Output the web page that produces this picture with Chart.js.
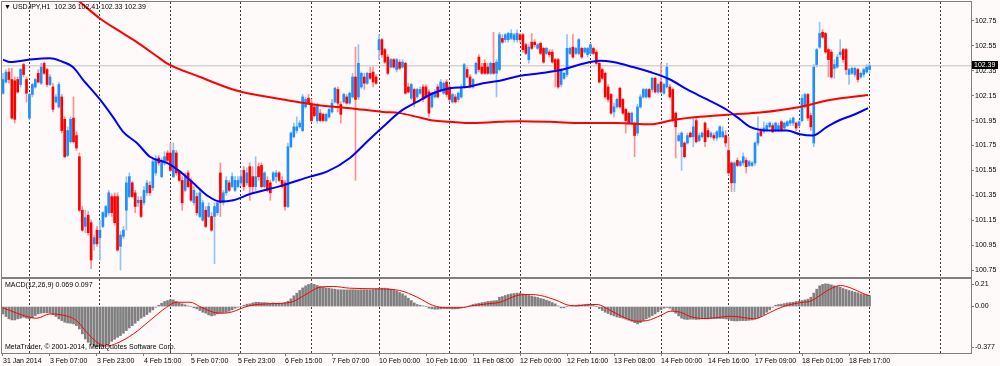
<!DOCTYPE html>
<html>
<head>
<meta charset="utf-8">
<script src="https://cdn.jsdelivr.net/npm/chart.js@4.4.1/dist/chart.umd.min.js"></script>
<style>
  html, body { margin: 0; padding: 0; background: #fffafa; }
  #wrap { position: relative; width: 1000px; height: 366px; overflow: hidden; }
  canvas { position: absolute; left: 0; }
  #main { top: 0; }
  #macd { top: 278px; }
  .lbl { position: absolute; font: 7px "Liberation Sans", Arial, sans-serif; color: #000; white-space: nowrap; line-height: 8px; }
</style>
</head>
<body>
<div id="wrap">
  <canvas id="main" width="1000" height="278"></canvas>
  <canvas id="macd" width="1000" height="88"></canvas>
  <div class="lbl" style="left:4px;top:3px">▼ USDJPY,H1&nbsp; 102.36 102.41 102.33 102.39</div>
  <div class="lbl" style="left:5px;top:281px">MACD(12,26,9) 0.069 0.097</div>
  <div class="lbl" style="left:5px;top:343px">MetaTrader, © 2001-2014, MetaQuotes Software Corp.</div>
</div>
<script>
// bar index 0 = 31 Jan 2014 14:00, one bar per hour, weekends skipped
const xLabelBars = [0, 16, 32, 48, 64, 80, 96, 112, 128, 144, 160, 176, 192, 208, 224, 240, 256, 272, 288];
const xLabels = ["31 Jan 2014", "3 Feb 07:00", "3 Feb 23:00", "4 Feb 15:00", "5 Feb 07:00", "5 Feb 23:00",
  "6 Feb 15:00", "7 Feb 07:00", "10 Feb 00:00", "10 Feb 16:00", "11 Feb 08:00", "12 Feb 00:00",
  "12 Feb 16:00", "13 Feb 08:00", "14 Feb 00:00", "14 Feb 16:00", "17 Feb 09:00", "18 Feb 01:00", "18 Feb 17:00"];
const dayStartBars = [9, 33, 57, 81, 105, 128, 152, 176, 200, 224, 247, 271, 295, 319];
const priceTicks = [100.75, 100.95, 101.15, 101.35, 101.55, 101.75, 101.95, 102.15, 102.35, 102.55, 102.75];
const macdTicks = [0.21, 0, -0.377];
const macdTickLabels = ["0.21", "0.00", "-0.377"];
const lastPrice = 102.39;

const opens = [
  102.17,102.26,102.34,102.28,102.27,102.28,102.24,102.40,102.28,101.97,
  102.16,102.22,102.33,102.25,102.41,102.36,102.24,102.22,102.10,102.06,
  102.14,101.96,101.67,101.78,101.97,101.83,101.66,101.23,101.10,101.19,
  101.13,100.96,101.07,101.01,101.10,101.18,101.21,101.34,101.34,101.34,
  100.94,101.02,101.23,101.34,101.45,101.37,101.29,101.31,101.29,101.37,
  101.43,101.41,101.53,101.65,101.50,101.61,101.69,101.69,101.50,101.69,
  101.54,101.47,101.39,101.53,101.47,101.29,101.34,101.18,101.15,101.23,
  101.18,101.18,101.18,101.21,101.53,101.29,101.37,101.45,101.42,101.39,
  101.42,101.45,101.55,101.45,101.58,101.50,101.42,101.58,101.59,101.42,
  101.47,101.45,101.47,101.50,101.53,101.47,101.45,101.26,101.74,101.82,
  101.87,101.90,101.87,102.06,102.13,102.09,102.06,101.95,102.01,102.00,
  101.95,101.98,102.02,102.10,102.20,102.08,102.10,102.14,102.09,102.14,
  102.30,102.14,102.22,102.30,102.25,102.33,102.34,102.30,102.52,102.60,
  102.52,102.46,102.38,102.44,102.36,102.42,102.38,102.41,102.22,102.13,
  102.20,102.14,102.17,102.22,102.22,102.18,102.06,102.14,102.22,102.20,
  102.17,102.26,102.22,102.10,102.14,102.12,102.14,102.22,102.36,102.30,
  102.22,102.33,102.46,102.38,102.41,102.38,102.33,102.41,102.33,102.36,
  102.61,102.60,102.60,102.61,102.60,102.60,102.64,102.64,102.56,102.44,
  102.58,102.58,102.53,102.57,102.53,102.49,102.50,102.50,102.44,102.44,
  102.24,102.29,102.32,102.49,102.54,102.49,102.49,102.53,102.50,102.48,
  102.49,102.53,102.50,102.41,102.36,102.33,102.22,102.16,102.02,102.06,
  102.21,102.12,102.04,102.01,101.93,101.93,101.85,102.06,102.14,102.14,
  102.20,102.20,102.29,102.18,102.26,102.17,102.22,102.22,102.20,102.01,
  101.79,101.74,101.77,101.77,101.85,101.82,101.95,101.79,101.82,101.93,
  101.87,101.82,101.83,101.81,101.82,101.82,101.83,101.71,101.61,101.45,
  101.63,101.59,101.61,101.63,101.59,101.59,101.61,101.77,101.87,101.86,
  101.87,101.90,101.91,101.87,101.87,101.94,101.89,101.91,101.93,101.93,
  101.93,101.91,101.95,102.06,102.16,101.99,101.77,102.40,102.54,102.66,
  102.65,102.52,102.50,102.37,102.38,102.48,102.52,102.52,102.32,102.33,
  102.32,102.36,102.30,102.32,102.34,102.36
];
const highs = [
  102.33,102.36,102.37,102.37,102.30,102.30,102.37,102.41,102.30,102.17,
  102.25,102.29,102.36,102.41,102.42,102.37,102.32,102.25,102.16,102.26,
  102.16,101.98,101.90,101.98,102.14,101.86,101.69,101.26,101.23,101.22,
  101.15,101.03,101.10,101.15,101.22,101.27,101.39,101.36,101.37,101.37,
  101.06,101.10,101.50,101.53,101.46,101.39,101.34,101.34,101.42,101.47,
  101.46,101.65,101.67,101.67,101.65,101.70,101.71,101.77,101.77,101.71,
  101.55,101.50,101.53,101.55,101.49,101.42,101.37,101.39,101.31,101.26,
  101.29,101.21,101.29,101.31,101.61,101.39,101.50,101.47,101.53,101.50,
  101.50,101.55,101.58,101.57,101.61,101.58,101.66,101.61,101.61,101.54,
  101.50,101.47,101.54,101.55,101.54,101.50,101.47,101.77,101.86,101.93,
  101.98,101.95,102.16,102.14,102.16,102.12,102.09,102.09,102.04,102.01,
  102.01,102.05,102.12,102.22,102.22,102.10,102.17,102.16,102.18,102.33,
  102.54,102.56,102.34,102.33,102.34,102.38,102.38,102.32,102.64,102.61,
  102.53,102.48,102.45,102.45,102.45,102.44,102.44,102.42,102.25,102.25,
  102.21,102.21,102.22,102.24,102.24,102.20,102.18,102.20,102.24,102.28,
  102.26,102.28,102.24,102.17,102.16,102.18,102.24,102.41,102.38,102.32,
  102.29,102.42,102.48,102.41,102.44,102.41,102.42,102.66,102.44,102.66,
  102.64,102.65,102.66,102.68,102.65,102.68,102.65,102.65,102.57,102.56,
  102.65,102.60,102.57,102.58,102.54,102.54,102.52,102.52,102.45,102.45,
  102.37,102.34,102.64,102.54,102.64,102.54,102.61,102.54,102.54,102.54,
  102.57,102.54,102.52,102.42,102.37,102.34,102.24,102.17,102.09,102.13,
  102.22,102.13,102.05,102.02,102.02,101.94,102.08,102.16,102.21,102.21,
  102.21,102.30,102.30,102.25,102.41,102.25,102.41,102.24,102.21,102.02,
  101.85,101.86,101.78,101.85,101.86,101.98,101.97,101.85,101.86,101.94,
  101.89,101.86,101.85,101.87,101.91,101.90,101.87,101.82,101.62,101.62,
  101.65,101.63,101.69,101.65,101.63,101.62,101.78,101.98,101.89,101.94,
  101.93,101.94,101.93,101.94,101.93,101.95,101.94,101.95,101.97,101.98,
  101.94,101.95,102.16,102.17,102.17,102.01,102.40,102.53,102.74,102.68,
  102.66,102.53,102.52,102.44,102.48,102.60,102.53,102.53,102.37,102.38,
  102.38,102.37,102.34,102.37,102.40,102.41
];
const lows = [
  102.16,102.25,102.25,101.96,101.93,102.17,102.22,102.30,102.10,101.96,
  102.14,102.21,102.25,102.24,102.32,102.22,102.23,102.02,102.09,102.05,
  101.85,101.65,101.66,101.77,101.77,101.71,101.22,101.06,101.05,101.03,
  100.76,100.91,100.94,100.83,101.09,101.17,101.19,101.18,101.11,100.90,
  100.75,101.00,101.07,101.33,101.33,101.21,101.26,101.17,101.27,101.35,
  101.35,101.39,101.51,101.59,101.49,101.59,101.62,101.54,101.49,101.51,
  101.46,101.23,101.38,101.41,101.30,101.27,101.19,101.17,101.14,101.09,
  101.17,101.06,100.80,101.19,101.18,101.27,101.35,101.38,101.41,101.38,
  101.41,101.43,101.39,101.43,101.31,101.37,101.39,101.47,101.41,101.41,
  101.38,101.31,101.46,101.45,101.46,101.41,101.23,101.25,101.73,101.81,
  101.85,101.89,101.86,102.05,102.08,101.94,101.98,101.93,101.94,101.94,
  101.94,101.97,102.01,102.09,102.02,101.93,102.09,102.08,102.08,102.13,
  101.47,102.12,102.21,102.20,102.24,102.28,102.22,102.24,102.44,102.46,
  102.41,102.32,102.37,102.37,102.34,102.36,102.37,102.16,102.17,102.12,
  102.06,102.13,102.16,102.10,102.13,101.98,102.05,102.13,102.13,102.18,
  102.16,102.14,102.10,102.09,102.09,102.10,102.13,102.21,102.29,102.21,
  102.21,102.32,102.34,102.32,102.32,102.32,102.32,102.32,102.14,102.35,
  102.57,102.58,102.58,102.60,102.58,102.58,102.58,102.50,102.48,102.41,
  102.52,102.54,102.52,102.48,102.41,102.48,102.46,102.41,102.22,102.21,
  102.22,102.28,102.30,102.48,102.45,102.48,102.48,102.45,102.49,102.46,
  102.48,102.48,102.40,102.25,102.28,102.13,102.10,102.00,101.98,102.05,
  102.05,102.00,101.85,101.92,101.92,101.66,101.83,102.05,102.13,102.13,
  102.13,102.18,102.17,102.17,102.17,102.16,102.21,102.13,101.94,101.65,
  101.78,101.55,101.65,101.76,101.81,101.74,101.77,101.78,101.81,101.74,
  101.81,101.81,101.79,101.79,101.81,101.81,101.74,101.51,101.38,101.38,
  101.58,101.58,101.59,101.53,101.58,101.58,101.59,101.75,101.82,101.85,
  101.86,101.89,101.85,101.86,101.86,101.86,101.87,101.90,101.91,101.91,
  101.87,101.90,101.94,102.05,101.95,101.87,101.74,102.38,102.53,102.61,
  102.49,102.30,102.29,102.29,102.37,102.46,102.42,102.32,102.24,102.32,
  102.30,102.26,102.29,102.30,102.33,102.33
];
const closes = [
  102.28,102.34,102.28,101.97,101.96,102.18,102.36,102.32,102.17,102.16,
  102.24,102.28,102.26,102.38,102.33,102.24,102.30,102.04,102.14,102.24,
  101.87,101.66,101.87,101.96,101.78,101.73,101.23,101.07,101.17,101.05,
  100.83,101.01,100.96,101.07,101.21,101.26,101.37,101.21,101.13,100.91,
  101.03,101.07,101.45,101.50,101.34,101.26,101.31,101.18,101.39,101.45,
  101.37,101.62,101.63,101.61,101.62,101.66,101.63,101.55,101.71,101.53,
  101.47,101.29,101.50,101.42,101.31,101.39,101.21,101.37,101.29,101.10,
  101.26,101.07,101.26,101.29,101.29,101.37,101.47,101.39,101.50,101.47,
  101.47,101.50,101.42,101.53,101.42,101.42,101.50,101.50,101.42,101.53,
  101.39,101.37,101.53,101.53,101.47,101.42,101.26,101.74,101.85,101.90,
  101.90,101.93,102.14,102.12,102.09,101.95,101.99,102.08,101.95,101.95,
  102.00,102.04,102.09,102.21,102.09,102.00,102.16,102.09,102.17,102.30,
  102.12,102.41,102.33,102.25,102.33,102.29,102.26,102.25,102.60,102.48,
  102.42,102.33,102.44,102.38,102.44,102.37,102.42,102.17,102.18,102.24,
  102.09,102.20,102.20,102.12,102.14,102.01,102.17,102.18,102.14,102.26,
  102.25,102.16,102.12,102.16,102.10,102.17,102.22,102.40,102.30,102.22,
  102.28,102.41,102.36,102.33,102.33,102.33,102.41,102.33,102.42,102.64,
  102.58,102.64,102.65,102.65,102.64,102.65,102.60,102.52,102.49,102.54,
  102.53,102.56,102.56,102.49,102.42,102.53,102.48,102.42,102.36,102.22,
  102.36,102.33,102.53,102.53,102.46,102.53,102.60,102.46,102.53,102.53,
  102.56,102.49,102.41,102.26,102.29,102.14,102.12,102.01,102.06,102.12,
  102.06,102.01,101.95,101.93,102.01,101.83,102.06,102.14,102.20,102.20,
  102.14,102.29,102.18,102.24,102.18,102.24,102.38,102.14,101.95,101.90,
  101.83,101.85,101.66,101.83,101.82,101.90,101.78,101.83,101.85,101.78,
  101.82,101.85,101.81,101.86,101.90,101.86,101.77,101.53,101.45,101.61,
  101.59,101.62,101.66,101.58,101.62,101.61,101.77,101.85,101.83,101.89,
  101.91,101.93,101.86,101.93,101.91,101.87,101.93,101.94,101.95,101.97,
  101.89,101.94,102.13,102.16,101.97,101.90,102.38,102.52,102.65,102.62,
  102.50,102.44,102.30,102.40,102.46,102.50,102.44,102.36,102.36,102.37,
  102.37,102.28,102.33,102.36,102.38,102.39
];

// moving averages at a set of bar positions
const fastMaBars = [0, 2.4, 9.2, 16, 19.4, 23.8, 27.2, 33, 37.4, 40.9, 45.6, 50, 55.8, 60.3, 64.7, 69.4, 73.9, 78.3,
  84.1, 95.3, 104.5, 110.3, 118.1, 123.9, 129.4, 135.1, 140.9, 146.4, 152.2, 158, 163.4, 169.2, 176, 182.8,
  190.6, 196.4, 203.2, 207.7, 214.5, 220.3, 227.1, 232.9, 239.7, 246.5, 250.9, 254.3, 261.1, 266.9, 271.3,
  275.7, 280.5, 284.9, 289.4, 294.5];
const fastMaValues = [102.44, 102.42, 102.44, 102.45, 102.43, 102.38, 102.28, 102.12, 101.98, 101.86, 101.77, 101.66,
  101.61, 101.54, 101.45, 101.35, 101.30, 101.31, 101.36, 101.43, 101.50, 101.54, 101.65, 101.78, 101.90, 102.02,
  102.10, 102.17, 102.21, 102.22, 102.25, 102.27, 102.31, 102.33, 102.36, 102.40, 102.43, 102.42, 102.38, 102.34,
  102.28, 102.20, 102.12, 102.035, 101.96, 101.90, 101.87, 101.87, 101.84, 101.83, 101.90, 101.955, 101.995, 102.05];
const slowMaBars = [22, 25.2, 33, 38.8, 44.3, 53.4, 55.8, 67.1, 78.3, 84.1, 95.3, 106.9, 118.1, 129.4, 135.1, 140.9,
  146.4, 152.2, 158, 169.2, 176, 186.2, 197.4, 209, 220.3, 228.1, 237.3, 248.5, 257.7, 271.3, 281.5, 294.5];
const slowMaValues = [102.97, 102.92, 102.77, 102.68, 102.60, 102.45, 102.41, 102.30, 102.20, 102.165, 102.12, 102.075,
  102.05, 102.02, 102.01, 101.98, 101.95, 101.94, 101.93, 101.94, 101.945, 101.94, 101.93, 101.93, 101.92, 101.955,
  101.98, 102.00, 102.015, 102.06, 102.115, 102.155];

const macdHist = [
  -0.069,-0.093,-0.115,-0.125,-0.125,-0.115,-0.109,-0.100,-0.109,-0.115,
  -0.106,-0.084,-0.069,-0.062,-0.059,-0.059,-0.062,-0.075,-0.093,-0.115,
  -0.131,-0.146,-0.153,-0.156,-0.162,-0.178,-0.209,-0.255,-0.302,-0.333,
  -0.355,-0.370,-0.377,-0.375,-0.368,-0.356,-0.349,-0.324,-0.305,-0.287,
  -0.271,-0.249,-0.224,-0.199,-0.178,-0.156,-0.131,-0.109,-0.093,-0.075,
  -0.053,-0.031,-0.006,0.012,0.031,0.047,0.056,0.065,0.062,0.047,
  0.034,0.025,0.016,0.006,0.000,-0.012,-0.022,-0.037,-0.053,-0.062,
  -0.078,-0.087,-0.081,-0.069,-0.062,-0.056,-0.053,-0.044,-0.031,-0.016,
  -0.006,0.000,0.012,0.022,0.025,0.034,0.040,0.040,0.037,0.037,
  0.034,0.031,0.034,0.031,0.031,0.031,0.037,0.050,0.072,0.100,
  0.125,0.150,0.174,0.193,0.206,0.212,0.206,0.196,0.187,0.181,
  0.174,0.171,0.165,0.162,0.157,0.156,0.156,0.155,0.156,0.157,
  0.156,0.155,0.156,0.157,0.156,0.156,0.159,0.165,0.171,0.171,
  0.171,0.168,0.162,0.156,0.143,0.131,0.118,0.100,0.078,0.056,
  0.034,0.019,0.012,0.006,0.000,-0.016,-0.022,-0.025,-0.025,-0.022,
  -0.019,-0.019,-0.019,-0.022,-0.022,-0.019,-0.012,-0.006,0.000,0.009,
  0.019,0.025,0.031,0.037,0.040,0.047,0.050,0.053,0.056,0.087,
  0.093,0.103,0.112,0.118,0.121,0.125,0.125,0.118,0.112,0.103,
  0.097,0.090,0.084,0.075,0.069,0.059,0.050,0.037,0.025,0.006,
  -0.012,-0.012,0.000,0.009,0.012,0.012,0.016,0.016,0.019,0.022,
  0.016,0.009,0.000,-0.019,-0.037,-0.053,-0.065,-0.078,-0.087,-0.097,
  -0.103,-0.109,-0.118,-0.128,-0.137,-0.150,-0.162,-0.150,-0.131,-0.115,
  -0.100,-0.084,-0.069,-0.050,-0.031,-0.016,-0.009,-0.016,-0.037,-0.062,
  -0.087,-0.109,-0.118,-0.121,-0.118,-0.118,-0.121,-0.118,-0.115,-0.115,
  -0.115,-0.112,-0.112,-0.112,-0.112,-0.112,-0.115,-0.118,-0.131,-0.134,
  -0.134,-0.131,-0.131,-0.131,-0.128,-0.125,-0.118,-0.109,-0.093,-0.075,
  -0.053,-0.031,-0.006,0.012,0.019,0.022,0.028,0.034,0.037,0.040,
  0.047,0.050,0.056,0.062,0.069,0.087,0.125,0.162,0.193,0.206,
  0.212,0.209,0.202,0.193,0.187,0.181,0.168,0.159,0.150,0.143,
  0.134,0.128,0.118,0.112,0.106,0.100
];
const signalBars = [0, 9, 11.5, 16, 19.4, 25, 28.5, 32, 35.3, 38.7, 44.4, 50, 55.7, 59, 63.7, 67, 71.6, 75, 78.4,
  80.7, 84, 90, 96.6, 98.8, 103.4, 108, 112.5, 118, 127, 135, 141, 146.5, 151, 155.6, 160, 164.7, 169.2, 175,
  179.5, 183, 188.6, 192, 195.4, 200, 202.2, 206.8, 211.3, 215.8, 219.3, 223.8, 227.2, 230.6, 234, 238.6, 243.1,
  247.6, 252.2, 255.6, 259, 263.6, 268.1, 272.6, 274.9, 277.2, 281.7, 285.1, 288.5, 293.1, 295];
const signalValues = [-0.012, -0.100, -0.109, -0.069, -0.075, -0.131, -0.240, -0.333, -0.368, -0.343, -0.255, -0.131,
  -0.006, 0.040, 0.040, 0.000, -0.053, -0.062, -0.047, -0.022, 0.009, 0.025, 0.034, 0.047, 0.118, 0.181, 0.187,
  0.171, 0.165, 0.150, 0.087, 0.009, -0.012, -0.012, 0.009, 0.025, 0.040, 0.103, 0.112, 0.103, 0.056, 0.016,
  0.006, 0.019, 0.019, -0.037, -0.100, -0.137, -0.131, -0.084, -0.044, -0.053, -0.093, -0.112, -0.103, -0.090,
  -0.103, -0.115, -0.084, -0.022, 0.019, 0.040, 0.050, 0.087, 0.165, 0.196, 0.174, 0.118, 0.100];

// one bar = 2.9375 px, first bar sits at x = 3
const X_MIN = -0.34;
const X_MAX = 329.53;
const FONT = { family: '"Liberation Sans", Arial, sans-serif', size: 7 };
const GRID = "#3a3a3a";
const FRAME = "#808080";
const BULL = "#1e8fff", BULL_WICK = "#8ec5fb";
const BEAR = "#ff0000", BEAR_WICK = "#ff9090";

Chart.defaults.animation = false;
Chart.defaults.font.family = FONT.family;
Chart.defaults.font.size = FONT.size;
Chart.defaults.color = "#000";

const bull = closes.map((c, i) => c >= opens[i]);
const bodyData = opens.map((o, i) => ({ x: i, y: [Math.min(o, closes[i]), Math.max(o, closes[i])] }));
const wickData = highs.map((h, i) => ({ x: i, y: [lows[i], h] }));
const toPoints = (xs, ys) => xs.map((x, i) => ({ x, y: ys[i] }));

const frame = {
  id: "frame",
  afterDraw(chart) {
    const { ctx, chartArea: a } = chart;
    ctx.save();
    ctx.strokeStyle = FRAME;
    ctx.lineWidth = 1;
    ctx.strokeRect(Math.round(a.left) - 0.5, Math.round(a.top) - 0.5,
      Math.round(a.right - a.left) + 1, Math.round(a.bottom - a.top) + 1);
    ctx.restore();
  }
};

const lastPriceTag = {
  id: "lastPriceTag",
  afterDraw(chart) {
    const { ctx, chartArea: a, scales: { y } } = chart;
    const py = Math.round(y.getPixelForValue(lastPrice));
    ctx.save();
    ctx.fillStyle = "#000";
    ctx.fillRect(a.right + 1, py - 5, 26, 8);
    ctx.fillStyle = "#fff";
    ctx.font = `${FONT.size}px ${FONT.family}`;
    ctx.textBaseline = "middle";
    ctx.fillText(lastPrice.toFixed(2), a.right + 3, py - 1);
    ctx.restore();
  }
};

const dayGrid = (extra) => Object.assign({
  type: "linear", min: X_MIN, max: X_MAX, offset: false,
  afterBuildTicks: s => { s.ticks = dayStartBars.map(v => ({ value: v })); },
  afterFit: s => { s.height = 0; s.paddingLeft = 0; s.paddingRight = 0; },
  ticks: { display: false },
  grid: { color: GRID, drawTicks: false, offset: false },
  border: { display: false, dash: [2, 2] }
}, extra);

new Chart(document.getElementById("main"), {
  type: "bar",
  data: {
    datasets: [
      { type: "line", data: toPoints(fastMaBars, fastMaValues), borderColor: "#0000ff", borderWidth: 2,
        pointRadius: 0, cubicInterpolationMode: "monotone", clip: 0, order: 0 },
      { type: "line", data: toPoints(slowMaBars, slowMaValues), borderColor: "#ff0000", borderWidth: 2,
        pointRadius: 0, cubicInterpolationMode: "monotone", clip: 0, order: 0 },
      { data: bodyData, backgroundColor: bull.map(b => b ? BULL : BEAR), grouped: false,
        barThickness: 2, maxBarThickness: 2, minBarLength: 1, borderWidth: 0, order: 1 },
      { data: wickData, backgroundColor: bull.map(b => b ? BULL_WICK : BEAR_WICK), grouped: false,
        barThickness: 1, maxBarThickness: 1, borderWidth: 0, order: 2 },
      { type: "line", data: [{ x: X_MIN, y: lastPrice }, { x: X_MAX, y: lastPrice }], borderColor: "#c0c0c0",
        borderWidth: 1, pointRadius: 0, clip: 0, order: 3 }
    ]
  },
  options: {
    responsive: false,
    devicePixelRatio: 1,
    events: [],
    layout: { padding: { left: 2, right: 0, top: 2, bottom: 1 } },
    plugins: { legend: { display: false }, tooltip: { enabled: false } },
    scales: {
      x: dayGrid({}),
      y: {
        position: "right", min: 100.6938, max: 102.9026,
        afterBuildTicks: s => { s.ticks = priceTicks.map(v => ({ value: v })); },
        afterFit: s => { s.width = 29; s.paddingTop = 0; s.paddingBottom = 0; },
        ticks: { padding: 1, font: FONT, color: "#000", autoSkip: false, callback: v => v.toFixed(2) },
        grid: { drawOnChartArea: false, drawTicks: true, tickLength: 3, color: FRAME },
        border: { display: false }
      }
    }
  },
  plugins: [frame, lastPriceTag]
});

new Chart(document.getElementById("macd"), {
  type: "bar",
  data: {
    datasets: [
      { type: "line", data: toPoints(signalBars, signalValues), borderColor: "#ff0000", borderWidth: 1,
        pointRadius: 0, cubicInterpolationMode: "monotone", clip: 0, order: 0 },
      { data: macdHist.map((v, i) => ({ x: i, y: v })), backgroundColor: "#808080", grouped: false,
        barThickness: 2, maxBarThickness: 2, borderWidth: 0, order: 1 }
    ]
  },
  options: {
    responsive: false,
    devicePixelRatio: 1,
    events: [],
    layout: { padding: { left: 2, right: 0, top: 1, bottom: 0 } },
    plugins: { legend: { display: false }, tooltip: { enabled: false } },
    scales: {
      x: {
        type: "linear", min: X_MIN, max: X_MAX, offset: false, position: "bottom",
        afterBuildTicks: s => { s.ticks = xLabelBars.map(v => ({ value: v })); },
        afterFit: s => { s.height = 13; s.paddingLeft = 0; s.paddingRight = 0; },
        ticks: { align: "start", autoSkip: false, maxRotation: 0, padding: 1, font: FONT, color: "#000",
          callback: v => xLabels[xLabelBars.indexOf(v)] },
        grid: { drawOnChartArea: false, drawTicks: true, tickLength: 3, color: FRAME, offset: false },
        border: { display: false }
      },
      xg: dayGrid({ position: "bottom" }),
      y: {
        position: "right", min: -0.4329, max: 0.2566,
        afterBuildTicks: s => { s.ticks = macdTicks.map(v => ({ value: v })); },
        afterFit: s => { s.width = 29; s.paddingTop = 0; s.paddingBottom = 0; },
        ticks: { padding: 1, font: FONT, color: "#000", autoSkip: false,
          callback: v => macdTickLabels[macdTicks.indexOf(v)] },
        grid: { drawOnChartArea: false, drawTicks: true, tickLength: 3, color: FRAME },
        border: { display: false }
      }
    }
  },
  plugins: [frame]
});
</script>
</body>
</html>
